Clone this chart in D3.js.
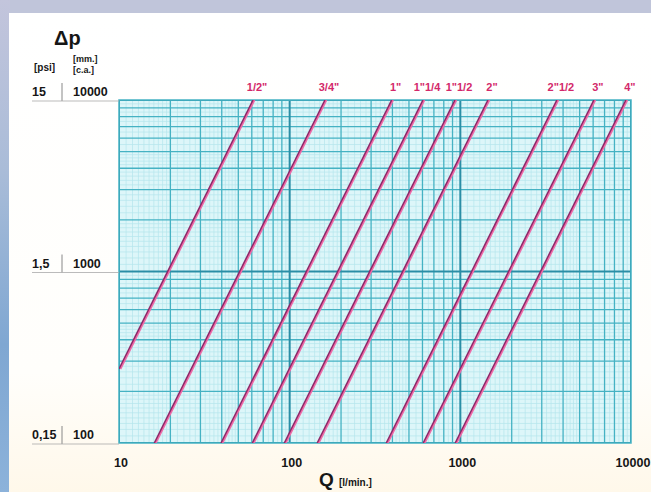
<!DOCTYPE html>
<html><head><meta charset="utf-8">
<script src="https://cdn.jsdelivr.net/npm/d3@7"></script>
<style>
html,body{margin:0;padding:0;background:#c0c5da;}
svg{display:block;font-family:"Liberation Sans",Arial,sans-serif;}
</style></head>
<body>
<svg id="c" width="651" height="492"></svg>
<script>
// ---- data ----
const pipeSizes = ['1/2"', '3/4"', '1"', '1"1/4', '1"1/2', '2"', '2"1/2', '3"', '4"'];
// each line: two points [Q (l/min), Δp (mm c.a.)]
const pipeLines = [
  [[10, 270], [61, 10000]],
  [[16.1, 100], [161, 10000]],
  [[39.6, 100], [396, 10000]],
  [[60.4, 100], [604, 10000]],
  [[93, 100], [930, 10000]],
  [[145, 100], [1452, 10000]],
  [[368, 100], [3680, 10000]],
  [[606, 100], [6063, 10000]],
  [[933, 100], [9333, 10000]]
];
const xTickValues = [10, 100, 1000, 10000];
const xTickLabels = ['10', '100', '1000', '10000'];
const yTickValues = [10000, 1000, 100];
const yTickMm = ['10000', '1000', '100'];
const yTickPsi = ['15', '1,5', '0,15'];

// ---- layout ----
const svg = d3.select('#c');
const W = 651, H = 492;
const plot = {x0: 119, x1: 631, y0: 100, y1: 443};
const x = d3.scaleLog().domain([10, 10000]).range([plot.x0, plot.x1]);
const y = d3.scaleLog().domain([100, 10000]).range([plot.y1, plot.y0]);
const ink = '#161616';

const defs = svg.append('defs');
const lg = defs.append('linearGradient').attr('id', 'leftStrip').attr('x1', 0).attr('x2', 0).attr('y1', 0).attr('y2', 1);
lg.append('stop').attr('offset', '0').attr('stop-color', '#c3c5dc');
lg.append('stop').attr('offset', '0.35').attr('stop-color', '#a9bcd8');
lg.append('stop').attr('offset', '0.7').attr('stop-color', '#7fa7d2');
lg.append('stop').attr('offset', '1').attr('stop-color', '#8cb2da');
const pg = defs.append('linearGradient').attr('id', 'panel').attr('x1', 0).attr('x2', 0).attr('y1', 0).attr('y2', 1);
pg.append('stop').attr('offset', '0').attr('stop-color', '#ffffff');
pg.append('stop').attr('offset', '0.75').attr('stop-color', '#fffefb');
pg.append('stop').attr('offset', '1').attr('stop-color', '#fff8ea');
defs.append('clipPath').attr('id', 'plotClip').append('rect')
  .attr('x', plot.x0).attr('y', plot.y0).attr('width', plot.x1 - plot.x0).attr('height', plot.y1 - plot.y0);

svg.append('rect').attr('width', W).attr('height', H).attr('fill', '#c0c5da');
svg.append('rect').attr('x', 0).attr('y', 0).attr('width', 10).attr('height', H).attr('fill', 'url(#leftStrip)');
svg.append('rect').attr('x', 9).attr('y', 13).attr('width', W - 9).attr('height', H - 13).attr('fill', 'url(#panel)');

// plot background
svg.append('rect').attr('x', plot.x0).attr('y', plot.y0)
  .attr('width', plot.x1 - plot.x0).attr('height', plot.y1 - plot.y0).attr('fill', '#ddf6f9');

function fineVals(lo, hi) {
  const out = [];
  for (let d = lo; d < hi; d *= 10) {
    for (let k = 1.1; k < 1.95; k += 0.1) out.push(d * k);
    for (let k = 2.2; k < 4.95; k += 0.2) if (Math.abs(k - Math.round(k)) > 0.05) out.push(d * k);
    for (let k = 5.5; k < 10; k += 1) out.push(d * k);
  }
  return out;
}
function midVals(lo, hi) {
  const out = [];
  for (let d = lo; d < hi; d *= 10) for (let k = 2; k <= 9; k++) out.push(d * k);
  return out;
}
const g = svg.append('g').attr('clip-path', 'url(#plotClip)');
g.selectAll('.fx').data(fineVals(10, 10000)).enter().append('line')
  .attr('x1', d => x(d)).attr('x2', d => x(d)).attr('y1', plot.y0).attr('y2', plot.y1)
  .attr('stroke', '#b4e5ec').attr('stroke-width', 0.7);
g.selectAll('.fy').data(fineVals(100, 10000)).enter().append('line')
  .attr('y1', d => y(d)).attr('y2', d => y(d)).attr('x1', plot.x0).attr('x2', plot.x1)
  .attr('stroke', '#b4e5ec').attr('stroke-width', 0.7);
g.selectAll('.mx').data(midVals(10, 10000)).enter().append('line')
  .attr('x1', d => x(d)).attr('x2', d => x(d)).attr('y1', plot.y0).attr('y2', plot.y1)
  .attr('stroke', '#45b2c3').attr('stroke-width', 1.3);
g.selectAll('.my').data(midVals(100, 10000)).enter().append('line')
  .attr('y1', d => y(d)).attr('y2', d => y(d)).attr('x1', plot.x0).attr('x2', plot.x1)
  .attr('stroke', '#45b2c3').attr('stroke-width', 1.3);
g.selectAll('.Mx').data(xTickValues).enter().append('line')
  .attr('x1', d => x(d)).attr('x2', d => x(d)).attr('y1', plot.y0).attr('y2', plot.y1)
  .attr('stroke', '#2a8ea6').attr('stroke-width', 2);
g.selectAll('.My').data(yTickValues).enter().append('line')
  .attr('y1', d => y(d)).attr('y2', d => y(d)).attr('x1', plot.x0).attr('x2', plot.x1)
  .attr('stroke', '#2a8ea6').attr('stroke-width', 2);
svg.append('rect').attr('x', plot.x0).attr('y', plot.y0)
  .attr('width', plot.x1 - plot.x0).attr('height', plot.y1 - plot.y0)
  .attr('fill', 'none').attr('stroke', '#45b2c3').attr('stroke-width', 1.5);

// pipe lines
const line = d3.line().x(d => x(d[0])).y(d => y(d[1]));
const lg2 = svg.append('g').attr('clip-path', 'url(#plotClip)');
lg2.selectAll('.pink').data(pipeLines).enter().append('path')
  .attr('d', line).attr('fill', 'none').attr('stroke', '#ee6aa6').attr('stroke-width', 2.4)
  .attr('transform', 'translate(1.2,0)');
lg2.selectAll('.pl').data(pipeLines).enter().append('path')
  .attr('d', line).attr('fill', 'none').attr('stroke', '#8c2868').attr('stroke-width', 1.5);

// pipe labels
svg.selectAll('.lab').data(pipeLines).enter().append('text')
  .attr('x', d => x(d[1][0]) + 4).attr('y', 91)
  .attr('text-anchor', 'middle').attr('font-size', 11).attr('font-weight', 'bold')
  .attr('fill', '#d3286a').text((d, i) => pipeSizes[i]);

// x axis labels
svg.selectAll('.xl').data(xTickValues).enter().append('text')
  .attr('x', d => x(d) + 2).attr('y', 467).attr('text-anchor', 'middle')
  .attr('font-size', 12.5).attr('font-weight', 'bold').attr('fill', ink)
  .text((d, i) => xTickLabels[i]);
svg.append('text').attr('x', 319).attr('y', 486).attr('font-size', 19).attr('font-weight', 'bold')
  .attr('fill', ink).text('Q');
svg.append('text').attr('x', 339).attr('y', 486).attr('font-size', 10).attr('font-weight', 'bold')
  .attr('fill', ink).text('[l/min.]');

// y axis labels
yTickValues.forEach((v, i) => {
  const yy = y(v);
  svg.append('text').attr('x', 32).attr('y', yy - 4)
    .attr('font-size', 12.5).attr('font-weight', 'bold').attr('fill', ink).text(yTickPsi[i]);
  svg.append('text').attr('x', 73).attr('y', yy - 4)
    .attr('font-size', 12.5).attr('font-weight', 'bold').attr('fill', ink).text(yTickMm[i]);
  svg.append('line').attr('x1', 62).attr('x2', 62).attr('y1', yy - 17).attr('y2', yy + 1)
    .attr('stroke', '#888').attr('stroke-width', 1);
  svg.append('line').attr('x1', 32).attr('x2', plot.x0).attr('y1', yy + 1).attr('y2', yy + 1)
    .attr('stroke', '#aaa').attr('stroke-width', 0.8);
});
svg.append('text').attr('x', 54).attr('y', 45).attr('font-size', 20).attr('font-weight', 'bold')
  .attr('fill', ink).text('Δp');
svg.append('text').attr('x', 34).attr('y', 71).attr('font-size', 10).attr('font-weight', 'bold')
  .attr('fill', ink).text('[psi]');
svg.append('text').attr('x', 73).attr('y', 62).attr('font-size', 9).attr('font-weight', 'bold')
  .attr('fill', ink).text('[mm.]');
svg.append('text').attr('x', 73).attr('y', 73).attr('font-size', 9).attr('font-weight', 'bold')
  .attr('fill', ink).text('[c.a.]');
</script>
</body></html>
